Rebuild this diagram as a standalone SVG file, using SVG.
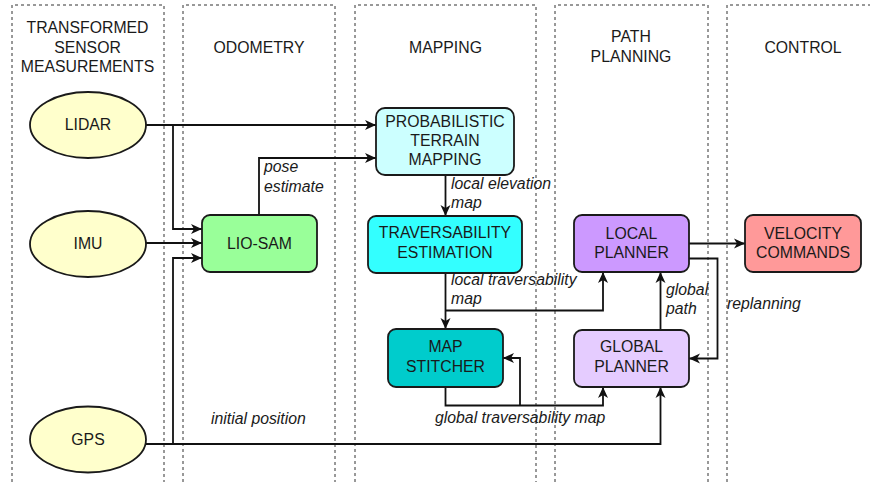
<svg xmlns="http://www.w3.org/2000/svg" width="870" height="482" viewBox="0 0 870 482">
  <style>
    .lane { fill: none; stroke: #333; stroke-width: 1; stroke-dasharray: 3 3; }
    .hdr { font-family: "Liberation Sans", Arial, sans-serif; font-size: 15.8px; fill: #1a1a1a; text-anchor: middle; }
    .lbl { font-family: "Liberation Sans", Arial, sans-serif; font-size: 15.8px; fill: #1a1a1a; text-anchor: middle; }
    .edge-lbl { font-family: "Liberation Sans", Arial, sans-serif; font-size: 15.8px; font-style: italic; fill: #1a1a1a; }
    .node { stroke: #1a1a1a; stroke-width: 1.8; }
    .wire { fill: none; stroke: #111; stroke-width: 1.8; }
  </style>
  <defs>
    <marker id="arrow" markerUnits="userSpaceOnUse" markerWidth="12" markerHeight="12" viewBox="0 0 12 10" refX="11" refY="5" orient="auto">
      <path d="M0,0 L11,5 L0,10 L3,5 z" fill="#111"/>
    </marker>
  </defs>

  <rect width="870" height="482" fill="#fff"/>

  <!-- swimlanes -->
  <g id="lanes">
    <path class="lane" d="M12,482 V5 H164 V482"/>
    <path class="lane" d="M183,482 V5 H335 V482"/>
    <path class="lane" d="M355,482 V5 H536 V482"/>
    <path class="lane" d="M555,482 V5 H708 V482"/>
    <path class="lane" d="M727,482 V5 H872"/>
    <text class="hdr" x="87.5" y="33">TRANSFORMED</text>
    <text class="hdr" x="87.5" y="52.5">SENSOR</text>
    <text class="hdr" x="87.5" y="72">MEASUREMENTS</text>
    <text class="hdr" x="259" y="53">ODOMETRY</text>
    <text class="hdr" x="445.5" y="53">MAPPING</text>
    <text class="hdr" x="631" y="42">PATH</text>
    <text class="hdr" x="631" y="62">PLANNING</text>
    <text class="hdr" x="803" y="53">CONTROL</text>
  </g>

  <!-- connectors -->
  <g id="connectors">
    <path class="wire" d="M146,125 H376" marker-end="url(#arrow)"/>
    <path class="wire" d="M173,125 V229 H202" marker-end="url(#arrow)"/>
    <path class="wire" d="M146,243 H202" marker-end="url(#arrow)"/>
    <path class="wire" d="M173,444 V258 H202" marker-end="url(#arrow)"/>
    <path class="wire" d="M146,444 H660.5 V387" marker-end="url(#arrow)"/>
    <path class="wire" d="M259,215 V158 H376" marker-end="url(#arrow)"/>
    <path class="wire" d="M445.5,175 V216" marker-end="url(#arrow)"/>
    <path class="wire" d="M445.5,273 V329" marker-end="url(#arrow)"/>
    <path class="wire" d="M445.5,310.5 H603 V272" marker-end="url(#arrow)"/>
    <path class="wire" d="M445.5,387 V405.5 H603 V387" marker-end="url(#arrow)"/>
    <path class="wire" d="M520,405.5 V358 H503" marker-end="url(#arrow)"/>
    <path class="wire" d="M660.5,330 V272" marker-end="url(#arrow)"/>
    <path class="wire" d="M689,243.5 H745" marker-end="url(#arrow)"/>
    <path class="wire" d="M689,258.5 H717.5 V358.5 H689" marker-end="url(#arrow)"/>

    <text class="edge-lbl" x="264" y="172">pose</text>
    <text class="edge-lbl" x="264" y="191.5">estimate</text>
    <text class="edge-lbl" x="451" y="189">local elevation</text>
    <text class="edge-lbl" x="451" y="208">map</text>
    <text class="edge-lbl" x="451" y="285">local traversability</text>
    <text class="edge-lbl" x="451" y="304">map</text>
    <text class="edge-lbl" x="666" y="294.5">global</text>
    <text class="edge-lbl" x="666" y="313.5">path</text>
    <text class="edge-lbl" x="727" y="309">replanning</text>
    <text class="edge-lbl" x="211" y="424">initial position</text>
    <text class="edge-lbl" x="435" y="423">global traversability map</text>
  </g>

  <!-- sensor inputs -->
  <g id="lidar">
    <ellipse class="node" cx="88" cy="125" rx="58" ry="33" fill="#ffffcc"/>
    <text class="lbl" x="88" y="130">LIDAR</text>
  </g>
  <g id="imu">
    <ellipse class="node" cx="88" cy="244" rx="58" ry="33" fill="#ffffcc"/>
    <text class="lbl" x="88" y="249">IMU</text>
  </g>
  <g id="gps">
    <ellipse class="node" cx="88" cy="439.5" rx="58" ry="33" fill="#ffffcc"/>
    <text class="lbl" x="88" y="444.5">GPS</text>
  </g>

  <!-- odometry -->
  <g id="lio-sam">
    <rect class="node" x="202" y="215" width="115" height="57" rx="8" fill="#99ff99"/>
    <text class="lbl" x="259.5" y="249">LIO-SAM</text>
  </g>

  <!-- mapping -->
  <g id="terrain-mapping">
    <rect class="node" x="376" y="108" width="138" height="67" rx="9" fill="#ccffff"/>
    <text class="lbl" x="445" y="127">PROBABILISTIC</text>
    <text class="lbl" x="445" y="146">TERRAIN</text>
    <text class="lbl" x="445" y="165">MAPPING</text>
  </g>
  <g id="traversability">
    <rect class="node" x="368" y="216" width="154" height="57" rx="8" fill="#33ffff"/>
    <text class="lbl" x="445" y="238">TRAVERSABILITY</text>
    <text class="lbl" x="445" y="257.5">ESTIMATION</text>
  </g>
  <g id="map-stitcher">
    <rect class="node" x="388" y="329" width="115" height="58" rx="8" fill="#00cccc"/>
    <text class="lbl" x="445.5" y="352">MAP</text>
    <text class="lbl" x="445.5" y="372">STITCHER</text>
  </g>

  <!-- path planning -->
  <g id="local-planner">
    <rect class="node" x="574" y="215" width="115" height="57" rx="8" fill="#cc99ff"/>
    <text class="lbl" x="631.5" y="238.5">LOCAL</text>
    <text class="lbl" x="631.5" y="257.5">PLANNER</text>
  </g>
  <g id="global-planner">
    <rect class="node" x="574" y="330" width="115" height="57" rx="8" fill="#e5ccff"/>
    <text class="lbl" x="631.5" y="352">GLOBAL</text>
    <text class="lbl" x="631.5" y="371.5">PLANNER</text>
  </g>

  <!-- control -->
  <g id="velocity-commands">
    <rect class="node" x="745" y="215" width="116" height="57" rx="8" fill="#ff9999"/>
    <text class="lbl" x="803" y="238.5">VELOCITY</text>
    <text class="lbl" x="803" y="257.5">COMMANDS</text>
  </g>
</svg>
